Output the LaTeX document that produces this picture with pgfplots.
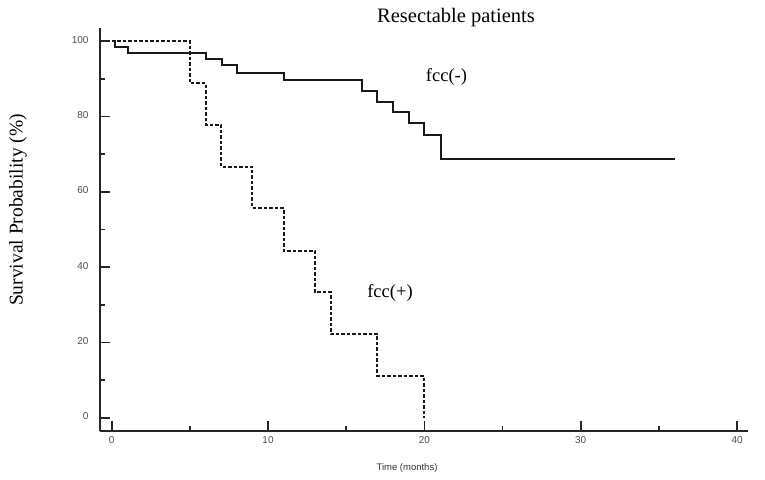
\documentclass[border=0pt]{standalone}
\usepackage{pgfplots}
\pgfplotsset{compat=1.18}
\usepackage{fontspec}
\setmainfont{Liberation Serif}
\setsansfont{Liberation Sans}
\begin{document}
\begin{tikzpicture}
\path[use as bounding box] (-100pt,-48pt) rectangle (665pt,431pt);
\begin{axis}[
  at={(0pt,0pt)}, anchor=south west,
  scale only axis, width=648pt, height=403pt,
  xmin=-0.75, xmax=40.7, ymin=-3.5, ymax=103.5,
  axis x line=bottom, axis y line=left,
  axis line style={-, line width=2pt, black!85},
  xtick={0,10,20,30,40}, minor xtick={5,15,25,35},
  ytick={0,20,40,60,80,100}, minor ytick={10,30,50,70,90},
  tick align=inside,
  major tick length=10pt, minor tick length=5pt,
  tick style={line width=1.6pt, black!85},
  /pgf/number format/assume math mode=true,
  ticklabel style={font=\sffamily\fontsize{10}{11}\selectfont, text=black!70},
  yticklabel style={xshift=-8pt, yshift=1.5pt},
  xticklabel style={yshift=-2pt},
  clip=false,
]
\addplot[const plot, line width=2pt, black!90] coordinates {
 (0,100) (0.2,98.5) (1.05,96.8) (6.0,95.4) (7.05,93.8) (8.0,91.6) (11.0,89.6)
 (16.0,86.8) (17.0,83.9) (18.0,81.3) (19.0,78.4) (20.0,75.1) (21.05,68.6) (36,68.6)};
\addplot[const plot, line width=2pt, black!90, dash pattern=on 3.5pt off 2pt] coordinates {
 (0,100) (5,88.9) (6,77.8) (7,66.7) (9,55.6) (11,44.4) (13,33.3) (14,22.2) (17,11.1) (20,0)};
\end{axis}
\node[font=\fontsize{20.5}{22}\selectfont] at (356pt,413pt) {Resectable patients};
\node[font=\fontsize{18.5}{20}\selectfont] at (346.5pt,354pt) {fcc(-)};
\node[font=\fontsize{18.5}{20}\selectfont] at (290pt,138pt) {fcc(+)};
\node[font=\fontsize{19.5}{21}\selectfont, rotate=90] at (-82pt,221pt) {Survival Probability (\%)};
\node[font=\sffamily\fontsize{9.5}{10}\selectfont, text=black!80] at (307pt,-36.7pt) {Time (months)};
\end{tikzpicture}
\end{document}
